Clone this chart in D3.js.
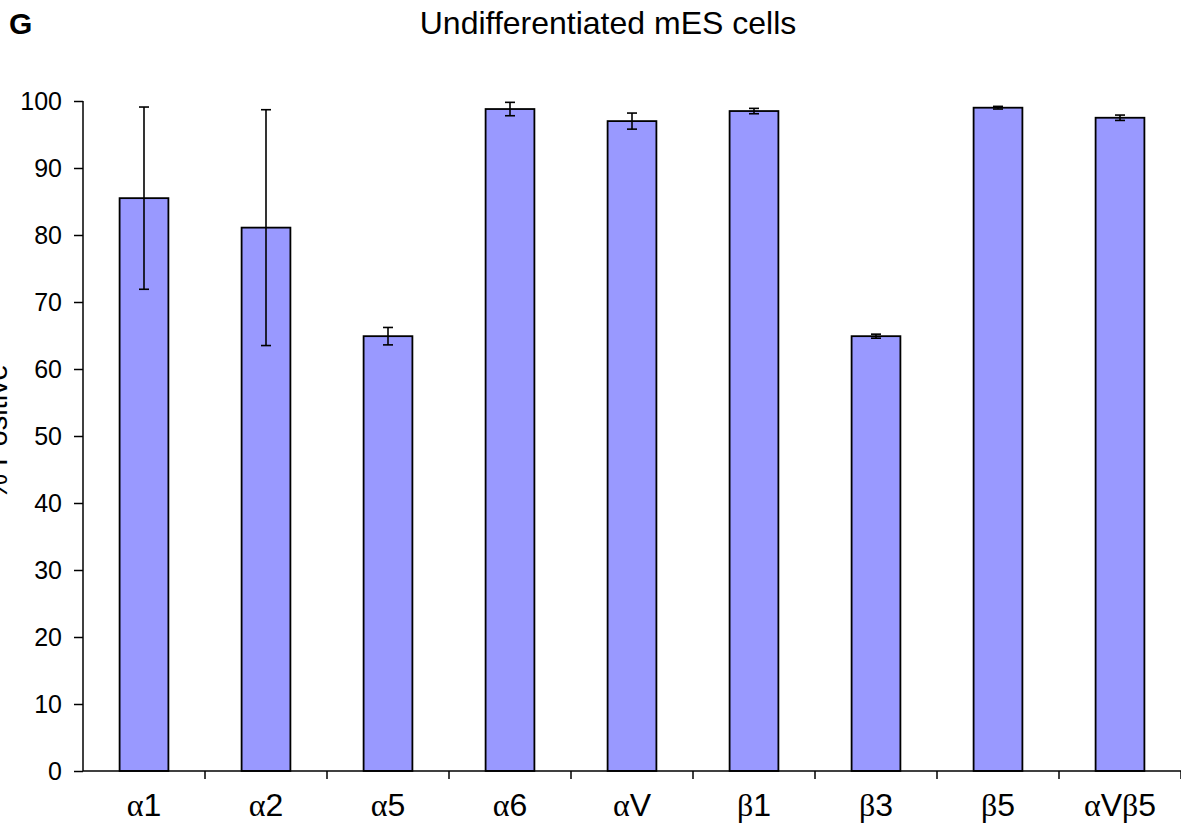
<!DOCTYPE html>
<html lang="en">
<head>
	<meta charset="UTF-8"/>
	<title>Undifferentiated mES cells</title>
	<script src="https://d3js.org/d3.v7.min.js"></script>
	<style>
		body { margin: 0; background: #fff; }
		svg text { font-family: "Liberation Sans", Arial, sans-serif; fill: #000; }
	</style>
</head>
<body>
	<script>

	// data
	var greek = ["α", "α", "α", "α", "α", "β", "β", "β", "αVβ"];
	var suffix = ["1", "2", "5", "6", "V", "1", "3", "5", "5"];
	var categories = ["α1", "α2", "α5", "α6", "αV", "β1", "β3", "β5", "αVβ5"];
	var values = [85.5, 81.1, 64.9, 98.8, 97.0, 98.5, 64.9, 99.0, 97.5];
	var errors = [13.6, 17.6, 1.3, 1.0, 1.2, 0.4, 0.3, 0.2, 0.4];
	var yTicks = [0, 10, 20, 30, 40, 50, 60, 70, 80, 90, 100];

	var w = 1181;
	var h = 825;
	var padLeft = 83, padRight = 1181, plotTop = 101, plotBottom = 771;

	var svg = d3.select("body")
				.append("svg")
				.attr("width", w)
				.attr("height", h);

	var xScale = d3.scaleBand()
					.domain(categories)
					.range([padLeft, padRight])
					.paddingInner(0.6)
					.paddingOuter(0.3);

	var yScale = d3.scaleLinear()
					.domain([0, 100])
					.range([plotBottom, plotTop]);

	// bars
	svg.selectAll("rect.bar")
		.data(values)
		.enter()
		.append("rect")
		.attr("class", "bar")
		.attr("x", function(d, i) { return xScale(categories[i]); })
		.attr("y", function(d) { return yScale(d); })
		.attr("width", xScale.bandwidth())
		.attr("height", function(d) { return yScale(0) - yScale(d); })
		.attr("fill", "#9999ff")
		.attr("stroke", "#000")
		.attr("stroke-width", 1.8);

	// error bars
	var eb = svg.selectAll("g.err")
		.data(values)
		.enter()
		.append("g")
		.attr("class", "err")
		.attr("stroke", "#000")
		.attr("stroke-width", 1.6);

	function cx(i) { return xScale(categories[i]) + xScale.bandwidth() / 2; }

	eb.append("line")
		.attr("x1", function(d, i) { return cx(i); })
		.attr("x2", function(d, i) { return cx(i); })
		.attr("y1", function(d, i) { return yScale(d + errors[i]); })
		.attr("y2", function(d, i) { return yScale(d - errors[i]); });
	eb.append("line")
		.attr("x1", function(d, i) { return cx(i) - 5; })
		.attr("x2", function(d, i) { return cx(i) + 5; })
		.attr("y1", function(d, i) { return yScale(d + errors[i]); })
		.attr("y2", function(d, i) { return yScale(d + errors[i]); });
	eb.append("line")
		.attr("x1", function(d, i) { return cx(i) - 5; })
		.attr("x2", function(d, i) { return cx(i) + 5; })
		.attr("y1", function(d, i) { return yScale(d - errors[i]); })
		.attr("y2", function(d, i) { return yScale(d - errors[i]); });

	// y axis
	var yAxis = d3.axisLeft(yScale)
					.tickValues(yTicks)
					.tickSize(9)
					.tickPadding(12);

	var gy = svg.append("g")
		.attr("transform", "translate(" + padLeft + ",0)")
		.call(yAxis);
	gy.select(".domain").attr("d", "M0," + plotTop + "V" + plotBottom).attr("stroke-width", 1.5);
	gy.selectAll(".tick line").attr("stroke-width", 1.5);
	gy.selectAll(".tick text")
		.style("font-family", "Liberation Sans, Arial, sans-serif")
		.style("font-size", "25px");

	// x axis: ticks between categories
	var xAxis = d3.axisBottom(xScale).tickSize(0).tickFormat("");
	var gx = svg.append("g")
		.attr("transform", "translate(0," + plotBottom + ")")
		.call(xAxis);
	gx.select(".domain").attr("d", "M" + padLeft + ",0H" + padRight).attr("stroke-width", 1.5);

	var step = xScale.step();
	svg.selectAll("line.xtick")
		.data(categories)
		.enter()
		.append("line")
		.attr("class", "xtick")
		.attr("x1", function(d) { return xScale(d) - xScale.paddingOuter() * step + step; })
		.attr("x2", function(d) { return xScale(d) - xScale.paddingOuter() * step + step; })
		.attr("y1", plotBottom)
		.attr("y2", plotBottom + 8)
		.attr("stroke", "#000")
		.attr("stroke-width", 1.5);

	// x labels with serif greek letters
	var lab = svg.selectAll("text.xlab")
		.data(categories)
		.enter()
		.append("text")
		.attr("class", "xlab")
		.attr("x", function(d, i) { return cx(i); })
		.attr("y", 816)
		.attr("text-anchor", "middle")
		.style("font-size", "32px");

	lab.each(function(d, i) {
		var t = d3.select(this);
		if (greek[i] === "αVβ") {
			t.append("tspan").style("font-family", "Liberation Serif, serif").text("α");
			t.append("tspan").text("V");
			t.append("tspan").style("font-family", "Liberation Serif, serif").text("β");
			t.append("tspan").text(suffix[i]);
		} else {
			t.append("tspan").style("font-family", "Liberation Serif, serif").text(greek[i]);
			t.append("tspan").text(suffix[i]);
		}
	});

	// title
	svg.append("text")
		.attr("x", 608)
		.attr("y", 34)
		.attr("text-anchor", "middle")
		.style("font-size", "32px")
		.text("Undifferentiated mES cells");

	// panel letter
	svg.append("text")
		.attr("x", 9)
		.attr("y", 34)
		.style("font-size", "30px")
		.style("font-weight", "bold")
		.text("G");

	// y axis label (cut off at the edge)
	svg.append("text")
		.attr("transform", "rotate(-90)")
		.attr("x", -432)
		.attr("y", 7)
		.attr("text-anchor", "middle")
		.style("font-size", "29px")
		.text("% Positive");

	</script>
</body>
</html>
